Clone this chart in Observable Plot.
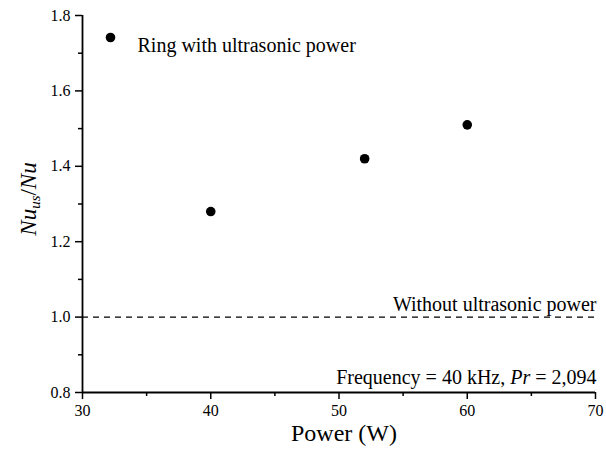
<!DOCTYPE html>
<html>
<head>
<meta charset="utf-8">
<script src="https://cdn.jsdelivr.net/npm/d3@7"></script>
<script src="https://cdn.jsdelivr.net/npm/@observablehq/plot@0.6"></script>
<style>
  html, body { margin: 0; padding: 0; background: #fff; }
</style>
</head>
<body>
<div id="chart"></div>
<script>
// ---- data ----
const power = [40, 52, 60];
const nuRatio = [1.28, 1.42, 1.51];
const baseline = [1.0];
const xTicks = [30, 40, 50, 60, 70];
const xMinor = [35, 45, 55, 65];
const yTicks = [0.8, 1.0, 1.2, 1.4, 1.6, 1.8];
const yMinor = [0.9, 1.1, 1.3, 1.5, 1.7];
const seriesName = "Ring with ultrasonic power";
const baselineLabel = "Without ultrasonic power";
const conditionLabel = "Frequency = 40 kHz, Pr = 2,094";
const xLabel = "Power (W)";
const yLabel = "Nu_us/Nu";

const points = power.map((p, i) => ({power: p, ratio: nuRatio[i]}));
const font = "Liberation Serif";

const chart = Plot.plot({
  width: 606,
  height: 456,
  marginLeft: 82,
  marginRight: 11,
  marginTop: 15,
  marginBottom: 64,
  style: {fontFamily: font, fontSize: "16px"},
  x: {domain: [30, 70], axis: null},
  y: {domain: [0.8, 1.8], axis: null},
  marks: [
    Plot.ruleY(baseline, {stroke: "#000", strokeWidth: 1.3, strokeDasharray: "6,5"}),
    Plot.axisX({ticks: xTicks, tickSize: 7, tickPadding: 5, strokeWidth: 1.5, fontSize: 16, label: null, tickFormat: d => String(d)}),
    Plot.axisX({ticks: xMinor, tickSize: 4, strokeWidth: 1.5, text: null, label: null}),
    Plot.axisY({ticks: yTicks, tickSize: 7, tickPadding: 5, strokeWidth: 1.5, fontSize: 16, label: null, tickFormat: d3.format(".1f")}),
    Plot.axisY({ticks: yMinor, tickSize: 4, strokeWidth: 1.5, text: null, label: null}),
    Plot.ruleX([30], {stroke: "#000", strokeWidth: 1.8}),
    Plot.ruleY([0.8], {stroke: "#000", strokeWidth: 1.8}),
    Plot.dot(points, {x: "power", y: "ratio", r: 4.8, fill: "#000", stroke: "none"}),
    // legend
    Plot.dot([seriesName], {frameAnchor: "top-left", dx: 28, dy: 22, r: 4.8, fill: "#000"}),
    Plot.text([seriesName], {frameAnchor: "top-left", dx: 55, dy: 22, textAnchor: "start", fontSize: 20, fill: "#000"}),
    // annotations
    Plot.text([baselineLabel], {x: 70, y: baseline[0], textAnchor: "end", lineAnchor: "bottom", dy: -6, dx: 1, fontSize: 20, fill: "#000"}),
    Plot.text([conditionLabel], {x: 70, y: 0.8, textAnchor: "end", lineAnchor: "bottom", dy: -9, dx: 1, fontSize: 20, fill: "#000"}),
    // axis labels
    Plot.text([xLabel], {frameAnchor: "bottom", dy: 48, dx: 5, fontSize: 24, fill: "#000"}),
    Plot.text([yLabel], {x: 30, y: 1.3, dx: -54, dy: -5, rotate: -90, fontSize: 23, fill: "#000"})
  ]
});

document.getElementById("chart").appendChild(chart);

// rich text: italic symbols and subscript
const svg = d3.select(chart);
svg.selectAll("text").each(function() {
  const t = d3.select(this);
  const s = t.text();
  if (s === conditionLabel) {
    t.text("");
    t.append("tspan").text("Frequency = 40 kHz, ");
    t.append("tspan").attr("font-style", "italic").text("Pr");
    t.append("tspan").text(" = 2,094");
  } else if (s === yLabel) {
    t.text("");
    t.append("tspan").attr("font-style", "italic").text("Nu");
    t.append("tspan").attr("font-style", "italic").attr("font-size", "15px").attr("dy", "0.3em").text("us");
    t.append("tspan").attr("dy", "-0.2em").text("/");
    t.append("tspan").attr("font-style", "italic").text("Nu");
  }
});
</script>
</body>
</html>
